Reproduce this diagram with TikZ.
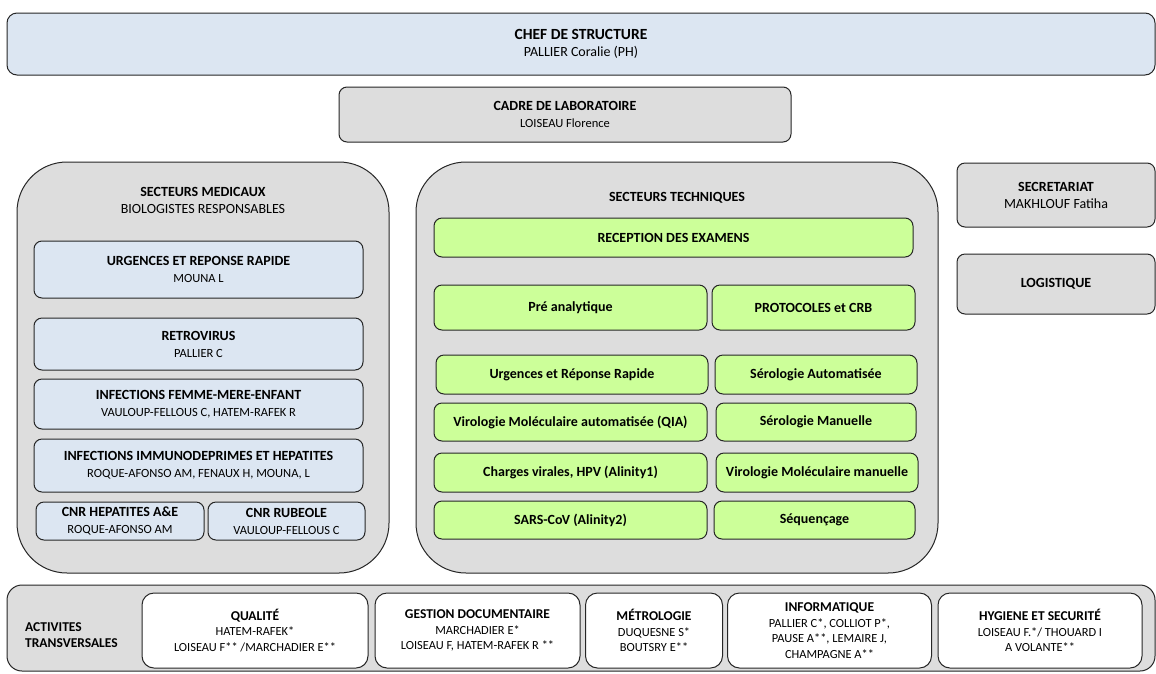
\documentclass[tikz,border=0pt]{standalone}
\usepackage{fontspec}
\setmainfont{Carlito}
\usepackage{tikz}
\usetikzlibrary{positioning}
\definecolor{medblue}{HTML}{DCE6F2}
\definecolor{greyfill}{HTML}{DDDDDD}
\definecolor{techgreen}{HTML}{CCFF99}
\definecolor{edge}{HTML}{262626}
\newcommand{\bigttl}{\fontsize{15.5}{18}\selectfont\bfseries}
\newcommand{\ttl}{\fontsize{14}{17}\selectfont\bfseries}
\newcommand{\nmb}{\fontsize{14}{17}\selectfont}
\newcommand{\nm}{\fontsize{12.5}{17}\selectfont}
\newcommand{\sttl}{\fontsize{13.5}{15.5}\selectfont\bfseries}
\newcommand{\snm}{\fontsize{12.4}{15.5}\selectfont}

\begin{document}
\begin{tikzpicture}[x=1pt,y=-1pt,every node/.style={inner sep=0pt,align=center,font=\nm},box/.style={draw=edge,line width=1pt,rounded corners=8pt},medbox/.style={box,fill=medblue},techbox/.style={box,fill=techgreen,font=\ttl},greybox/.style={box,fill=greyfill},whitebox/.style={box,fill=white,rounded corners=12pt,minimum height=75pt,font=\snm},sector/.style={box,fill=greyfill,rounded corners=50pt}]
\path[use as bounding box,fill=white] (0,0) rectangle (1156,673);
\node[medbox,rounded corners=10pt,minimum width=1148pt,minimum height=62pt,font=\nmb] (chef) at (581,44) {{\bigttl CHEF DE STRUCTURE}\\PALLIER Coralie (PH)};
\node[greybox,minimum width=452pt,minimum height=55pt] (cadre) at (565,114.5) {{\ttl CADRE DE LABORATOIRE}\\LOISEAU Florence};
\node[sector,minimum width=372pt,minimum height=411pt] (med) at (203,367.5) {};
\node[font=\nmb] (medtitle) at (203,200) {{\ttl SECTEURS MEDICAUX}\\BIOLOGISTES RESPONSABLES};
\node[medbox,minimum width=329pt,minimum height=57pt] (urg) at (198.5,269.5) {{\ttl URGENCES ET REPONSE RAPIDE}\\MOUNA L};
\node[medbox,minimum width=329pt,minimum height=52pt] (retro) at (198.5,344) {{\ttl RETROVIRUS}\\PALLIER C};
\node[medbox,minimum width=329pt,minimum height=50pt] (femme) at (198.5,404) {{\ttl INFECTIONS FEMME-MERE-ENFANT}\\VAULOUP-FELLOUS C, HATEM-RAFEK R};
\node[medbox,minimum width=329pt,minimum height=53pt] (immuno) at (198.5,465.5) {{\ttl INFECTIONS IMMUNODEPRIMES ET HEPATITES}\\ROQUE-AFONSO AM, FENAUX H, MOUNA, L};
\node[medbox,minimum width=168pt,minimum height=38pt] (cnrhep) at (120,521) {{\ttl CNR HEPATITES A\&E}\\ROQUE-AFONSO AM};
\node[medbox,minimum width=157pt,minimum height=38pt,right=3pt of cnrhep] (cnrrub) {{\ttl CNR RUBEOLE}\\VAULOUP-FELLOUS C};
\node[sector,minimum width=522pt,minimum height=411pt] (tech) at (677,367.5) {};
\node[font=\ttl] (techtitle) at (677,198) {SECTEURS TECHNIQUES};
\node[techbox,minimum width=479pt,minimum height=39pt] (recep) at (673.5,237.5) {RECEPTION DES EXAMENS};
\node[techbox,minimum width=273pt,minimum height=45pt] (pre) at (570.5,307.5) {Pré analytique};
\node[techbox,minimum width=203pt,minimum height=45pt] (proto) at (813.5,307.5) {PROTOCOLES et CRB};
\node[techbox,minimum width=272pt,minimum height=39pt] (urgtech) at (572,374.5) {Urgences et Réponse Rapide};
\node[techbox,minimum width=202pt,minimum height=39pt] (seroauto) at (816,374.5) {Sérologie Automatisée};
\node[techbox,minimum width=273pt,minimum height=38pt] (qia) at (570.5,422) {Virologie Moléculaire automatisée (QIA)};
\node[techbox,minimum width=200pt,minimum height=38pt] (seroman) at (816,422) {Sérologie Manuelle};
\node[techbox,minimum width=273pt,minimum height=39pt] (charges) at (570.5,472.5) {Charges virales, HPV (Alinity1)};
\node[techbox,minimum width=202pt,minimum height=39pt] (virman) at (817,472.5) {Virologie Moléculaire manuelle};
\node[techbox,minimum width=273pt,minimum height=38pt] (sars) at (570.5,520) {SARS-CoV (Alinity2)};
\node[techbox,minimum width=201pt,minimum height=38pt] (sequ) at (814.5,520) {Séquençage};
\node[greybox,minimum width=198pt,minimum height=64pt,font=\nmb] (secr) at (1056,195) {{\ttl SECRETARIAT}\\MAKHLOUF Fatiha};
\node[greybox,minimum width=198pt,minimum height=60pt,font=\ttl] (logi) at (1056,284) {LOGISTIQUE};
\node[greybox,rounded corners=15pt,minimum width=1148pt,minimum height=86pt] (transv) at (581,628) {};
\node[font=\sttl,align=left,anchor=west] (transvtitle) at (25,635) {ACTIVITES\\TRANSVERSALES};
\node[whitebox,minimum width=226pt] (qual) at (255,630.5) {{\sttl QUALITÉ}\\HATEM-RAFEK*\\LOISEAU F** /MARCHADIER E**};
\node[whitebox,minimum width=205pt] (gest) at (477.5,630.5) {{\sttl GESTION DOCUMENTAIRE}\\MARCHADIER E*\\LOISEAU F, HATEM-RAFEK R **};
\node[whitebox,minimum width=137pt] (metro) at (654,630.5) {{\sttl MÉTROLOGIE}\\DUQUESNE S*\\BOUTSRY E**};
\node[whitebox,minimum width=204pt] (info) at (829.5,630.5) {{\sttl INFORMATIQUE}\\PALLIER C*, COLLIOT P*,\\PAUSE A**, LEMAIRE J,\\CHAMPAGNE A**};
\node[whitebox,minimum width=204pt] (hyg) at (1040,630.5) {{\sttl HYGIENE ET SECURITÉ}\\LOISEAU F.*/ THOUARD I\\A VOLANTE**};
\end{tikzpicture}
\end{document}
